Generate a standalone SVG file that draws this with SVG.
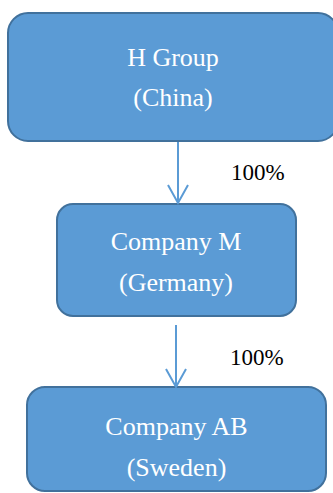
<svg xmlns="http://www.w3.org/2000/svg" width="333" height="493" viewBox="0 0 333 493">
<style>
.box{fill:#5B9BD5;stroke:#41719C;stroke-width:2}
.t{font-family:"Liberation Serif","Times New Roman",serif;font-size:26px;fill:#FFFFFF;text-anchor:middle}
.pct{font-family:"Liberation Serif","Times New Roman",serif;font-size:23px;fill:#000000}
.con{fill:none;stroke:#5B9BD5;stroke-width:2}
</style>
<rect width="333" height="493" fill="#FFFFFF"/>
<g id="node-hgroup">
<rect class="box" x="8" y="13" width="330" height="128" rx="20" ry="20"/>
<text class="t" x="173" y="66">H Group</text>
<text class="t" x="173" y="106">(China)</text>
</g>
<g id="node-companym">
<rect class="box" x="57" y="204" width="239" height="112" rx="16" ry="16"/>
<text class="t" x="176" y="250">Company M</text>
<text class="t" x="176" y="291">(Germany)</text>
</g>
<g id="node-companyab">
<rect class="box" x="27" y="387" width="299" height="104" rx="18" ry="18"/>
<text class="t" x="176.5" y="435">Company AB</text>
<text class="t" x="176.5" y="476">(Sweden)</text>
</g>
<g id="connectors">
<line class="con" x1="178" y1="142" x2="178" y2="203"/>
<polyline class="con" points="168,185 178,203 188,185"/>
<line class="con" x1="176" y1="325" x2="176" y2="387"/>
<polyline class="con" points="166,369 176,387 186,369"/>
<text class="pct" x="231" y="180">100%</text>
<text class="pct" x="230" y="365">100%</text>
</g>
</svg>
